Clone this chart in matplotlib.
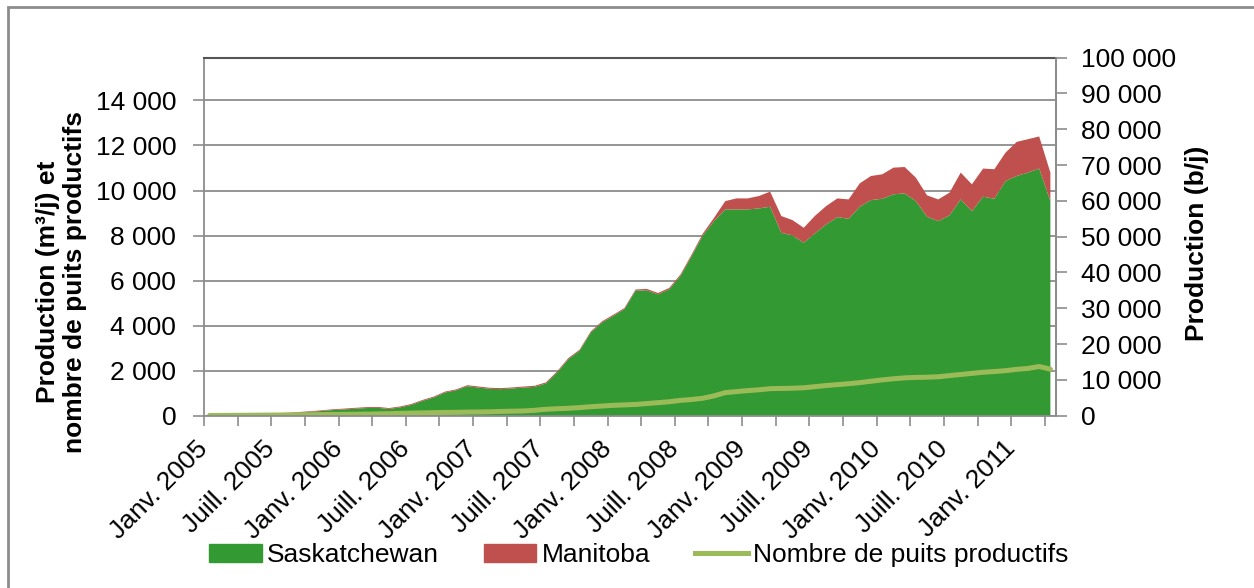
import numpy as np
import matplotlib
matplotlib.use('Agg')
import matplotlib.pyplot as plt
import matplotlib.transforms as mtransforms
from matplotlib.patches import Rectangle
from matplotlib.lines import Line2D

plt.rcParams['font.family'] = ['Liberation Sans', 'DejaVu Sans']

# monthly data, Janv. 2005 -> Avr. 2011 (76 months)
sask = [20, 25, 30, 40, 50, 60, 80, 110, 140, 170,
        210, 250, 280, 310, 340, 350, 300, 370, 480, 660,
        810, 1030, 1130, 1310, 1250, 1195, 1180, 1210, 1250, 1280,
        1430, 1920, 2510, 2880, 3690, 4140, 4430, 4730, 5550, 5570,
        5390, 5610, 6200, 7090, 8005, 8640, 9160, 9160, 9160, 9205,
        9280, 8120, 8005, 7680, 8100, 8495, 8820, 8745, 9280, 9575,
        9635, 9830, 9875, 9530, 8835, 8640, 8895, 9605, 9085, 9725,
        9635, 10420, 10645, 10795, 10975, 9530]
manitoba = [0, 0, 0, 0, 5, 10, 15, 20, 25, 30,
            30, 35, 35, 40, 40, 40, 40, 40, 40, 40,
            40, 40, 40, 45, 45, 45, 45, 45, 45, 50,
            50, 50, 50, 50, 50, 50, 50, 50, 55, 60,
            60, 65, 70, 70, 85, 150, 370, 490, 490, 550,
            670, 745, 680, 665, 775, 815, 830, 860, 1040, 1070,
            1085, 1185, 1170, 1040, 950, 965, 1010, 1190, 1190, 1250,
            1310, 1265, 1515, 1485, 1425, 1265]
wells = [10, 12, 15, 18, 22, 26, 30, 35, 40, 45,
         50, 55, 60, 65, 70, 80, 90, 105, 115, 125,
         135, 145, 150, 160, 165, 175, 190, 200, 210, 240,
         285, 310, 330, 360, 400, 430, 460, 480, 500, 540,
         580, 620, 680, 720, 775, 880, 1025, 1070, 1115, 1150,
         1200, 1210, 1220, 1240, 1290, 1340, 1380, 1420, 1470, 1530,
         1590, 1640, 1680, 1700, 1710, 1730, 1780, 1830, 1880, 1930,
         1960, 2000, 2060, 2100, 2185, 2065]
tick_labels = ['Janv. 2005', 'Juill. 2005', 'Janv. 2006', 'Juill. 2006',
               'Janv. 2007', 'Juill. 2007', 'Janv. 2008', 'Juill. 2008',
               'Janv. 2009', 'Juill. 2009', 'Janv. 2010', 'Juill. 2010',
               'Janv. 2011']

c_sask = '#339933'
c_man = '#C0504D'
c_wells = '#9BBB59'
fs = 19

x = np.arange(len(sask)) + 0.5

fig = plt.figure(figsize=(12.54, 5.88), dpi=100)
ax = fig.add_axes([204/1254, 1-415.7/588, 852/1254, 358/588])

ax.stackplot(x, sask, manitoba, colors=[c_sask, c_man], lw=0)
ax.plot(x, wells, color=c_wells, lw=3.6, solid_capstyle='round')

ax.set_xlim(0, 76)
ax.set_ylim(0, 100000/6.29)
ax.set_yticks(np.arange(0, 14001, 2000))
ax.set_yticklabels(['{:,}'.format(v).replace(',', ' ') for v in range(0, 14001, 2000)],
                   fontsize=fs)
ax.yaxis.grid(True, color='#8c8c8c', lw=1.3)
ax.set_axisbelow(True)

ax.set_xticks(np.arange(0, 76, 3), minor=True)
ax.set_xticks(np.arange(0, 73, 6))
ax.set_xticklabels(tick_labels, rotation=45, ha='right', va='center',
                   rotation_mode='anchor', fontsize=fs)
offset = mtransforms.ScaledTranslation(11/100, 0, fig.dpi_scale_trans)
for lab in ax.get_xticklabels():
    lab.set_transform(lab.get_transform() + offset)
ax.tick_params(axis='x', which='both', length=7, width=1.2, color='#8c8c8c',
               direction='out', pad=14)
ax.tick_params(axis='y', length=8, width=1.2, color='#8c8c8c', pad=12)

for s in ['left', 'bottom', 'right']:
    ax.spines[s].set_color('#8c8c8c')
    ax.spines[s].set_linewidth(1.3)
ax.spines['top'].set_color('#555555')
ax.spines['top'].set_linewidth(1.5)

ax2 = ax.twinx()
ax2.set_ylim(0, 100000)
ax2.set_yticks(np.arange(0, 100001, 10000))
ax2.set_yticklabels(['{:,}'.format(v).replace(',', ' ') for v in range(0, 100001, 10000)],
                    fontsize=fs)
ax2.tick_params(axis='y', length=8, width=1.2, color='#8c8c8c', pad=10)
ax2.spines['right'].set_color('#8c8c8c')
ax2.spines['right'].set_linewidth(1.3)
for s in ['left', 'top', 'bottom']:
    ax2.spines[s].set_visible(False)

fig.text(61.5/1254, 1-282/588, 'Production (m³/j) et\nnombre de puits productifs',
         rotation=90, ha='center', va='center', multialignment='center',
         fontsize=fs, fontweight='bold', linespacing=1.15)
fig.text(1197/1254, 1-243/588, 'Production (b/j)', rotation=90,
         ha='center', va='center', fontsize=fs, fontweight='bold')

handles = [Rectangle((0, 0), 1, 1, color=c_sask),
           Rectangle((0, 0), 1, 1, color=c_man),
           Line2D([0], [0], color=c_wells, lw=3.6)]
fig.legend(handles, ['Saskatchewan', 'Manitoba', 'Nombre de puits productifs'],
           loc='center', bbox_to_anchor=(638.5/1254, 1-555/588), ncol=3,
           frameon=False, fontsize=fs, handlelength=2.0, handletextpad=0.19,
           columnspacing=1.7, borderpad=0, borderaxespad=0)

# outer chart frame (left and top edges visible)
fig.add_artist(Rectangle((8/1254, -0.1), 1.2, 1.1 - 7/588, transform=fig.transFigure,
                         fill=False, edgecolor='#8c8c8c', lw=2))

fig.savefig('out.png', dpi=100)
